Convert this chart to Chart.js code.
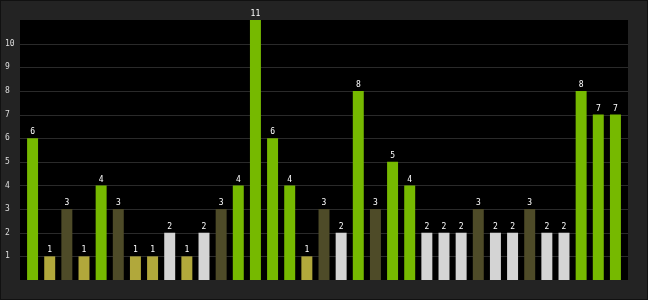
<!DOCTYPE html>
<html>
<head>
<meta charset="utf-8">
<script src="https://cdn.jsdelivr.net/npm/chart.js@4/dist/chart.umd.min.js"></script>
<style>
  html, body { margin: 0; padding: 0; background: #232323; }
  #wrap { width: 648px; height: 300px; position: relative; }
</style>
</head>
<body>
<div id="wrap"><canvas id="chart"></canvas></div>
<script>
// data
const categories = Array.from({ length: 35 }, (_, i) => String(i + 1));
const values = [6, 1, 3, 1, 4, 3, 1, 1, 2, 1, 2, 3, 4, 11, 6, 4, 1, 3, 2, 8, 3, 5, 4, 2, 2, 2, 3, 2, 2, 3, 2, 2, 8, 7, 7];
const yTicks = [1, 2, 3, 4, 5, 6, 7, 8, 9, 10];

// colour depends on the value
function barColor(v) {
    if (v === 1) return "#b1a83b";
    if (v === 2) return "#d4d4d4";
    if (v === 3) return "#4e4b28";
    return "#76b900";
}

const monoFont = "'DejaVu Sans Mono', monospace";

// dark frame, black plot area and horizontal grid lines
const background = {
    id: "background",
    beforeDraw(chart) {
        const c = chart.ctx;
        const a = chart.chartArea;
        c.save();
        c.fillStyle = "#111111";
        c.fillRect(0, 0, chart.width, chart.height);
        c.fillStyle = "#232323";
        c.fillRect(1, 1, chart.width - 2, chart.height - 2);
        c.fillStyle = "#000000";
        c.fillRect(a.left - 4, a.top, a.right - a.left + 8, a.bottom - a.top);
        const y = chart.scales.y;
        c.strokeStyle = "#2a2a2a";
        c.lineWidth = 1;
        yTicks.forEach((t) => {
            const py = Math.round(y.getPixelForValue(t)) + 0.5;
            c.beginPath();
            c.moveTo(a.left - 4, py);
            c.lineTo(a.right + 4, py);
            c.stroke();
        });
        c.restore();
    },
};

// value labels above the bars
const valueLabels = {
    id: "valueLabels",
    afterDatasetsDraw(chart) {
        const c = chart.ctx;
        const meta = chart.getDatasetMeta(0);
        c.save();
        c.font = "8px " + monoFont;
        c.fillStyle = "#ffffff";
        c.textAlign = "center";
        c.textBaseline = "bottom";
        meta.data.forEach((bar, i) => {
            c.fillText(String(values[i]), bar.x, bar.y - 2);
        });
        c.restore();
    },
};

new Chart(document.getElementById("chart"), {
    type: "bar",
    data: {
        labels: categories,
        datasets: [{
            data: values,
            backgroundColor: values.map(barColor),
            borderWidth: 0,
            barPercentage: 0.64,
            categoryPercentage: 1,
        }],
    },
    options: {
        responsive: true,
        maintainAspectRatio: false,
        animation: false,
        layout: { padding: { left: 5, right: 24, top: 20, bottom: 20 } },
        plugins: {
            legend: { display: false },
            tooltip: { enabled: false },
        },
        scales: {
            x: {
                display: false,
            },
            y: {
                min: 0,
                max: 11,
                afterFit(scale) { scale.width = 19; },
                grid: { display: false },
                border: { display: false },
                ticks: {
                    stepSize: 1,
                    crossAlign: "far",
                    color: "#dddddd",
                    font: { family: monoFont, size: 8 },
                    callback: (v) => (yTicks.includes(v) ? String(v) : ""),
                },
            },
        },
    },
    plugins: [background, valueLabels],
});
</script>
</body>
</html>
